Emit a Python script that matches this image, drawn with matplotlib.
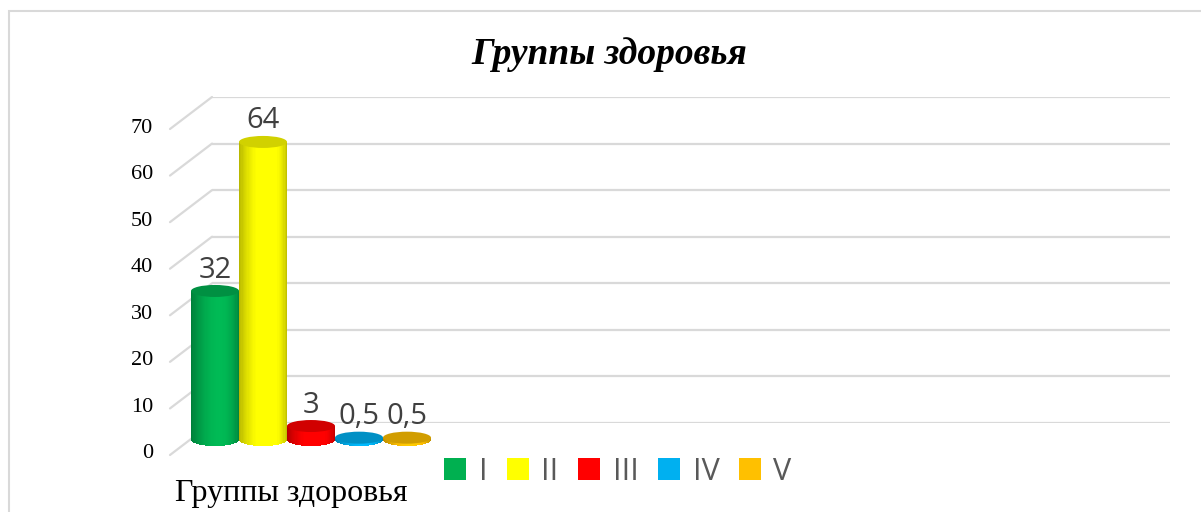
import matplotlib
matplotlib.use("Agg")
import matplotlib.pyplot as plt
import matplotlib.transforms as mtransforms
from matplotlib.patches import Ellipse, Patch, Rectangle
from matplotlib.colors import to_rgb
import numpy as np

# data
groups = ["I", "II", "III", "IV", "V"]
values = [32, 64, 3, 0.5, 0.5]
colors = ["#00b050", "#ffff00", "#ff0000", "#00b0f0", "#ffc000"]
yticks = [0, 10, 20, 30, 40, 50, 60, 70]
title = "Группы здоровья"
cat_label = "Группы здоровья"

W, H = 1201, 512
fig = plt.figure(figsize=(W / 100, H / 100), dpi=100)

# back wall of the pseudo-3D plot
ax = fig.add_axes([212 / W, 89 / H, 958 / W, 326 / H])
ax.set_xlim(0, 958 / 48)
ax.set_ylim(0, 70)
ax.axis("off")

grid_c = "#d9d9d9"
blend = mtransforms.blended_transform_factory(ax.transAxes, ax.transData)
mid = mtransforms.offset_copy(ax.transData, fig=fig, x=-21, y=-17, units="dots")
lab_tr = blend + mtransforms.ScaledTranslation(-59 / 100, -31 / 100, fig.dpi_scale_trans)

for v in yticks:
    ax.axhline(v, color=grid_c, lw=1.6, zorder=0)
    ax.annotate("", xy=(0, v), xycoords=blend, xytext=(-42, -32),
                textcoords="offset pixels", annotation_clip=False, zorder=0,
                arrowprops=dict(arrowstyle="-", color=grid_c, lw=1.6,
                                shrinkA=0, shrinkB=0))
    ax.text(0, v, str(v), transform=lab_tr, ha="right", va="center",
            fontsize=16, family="Liberation Serif", color="black")

# cylinders built from thin vertical strips
eh = 12 / (326 / 70)
n = 40
for i, (v, c) in enumerate(zip(values, colors)):
    xc = 0.5 + i
    rgb = np.array(to_rgb(c))
    t = (np.arange(n) + 0.5) / n
    u = 2 * t - 1
    shade = 0.70 + 0.36 * np.sin(np.pi * t ** 1.3) ** 0.6
    bottoms = -eh / 2 * np.sqrt(1 - u ** 2)
    strip_cols = [tuple(np.clip(rgb * s, 0, 1)) for s in shade]
    ax.bar(xc - 0.5 + t, v - bottoms, bottom=bottoms, width=1 / n,
           color=strip_cols, linewidth=0, transform=mid, clip_on=False,
           zorder=2)
    top = Ellipse((xc, v), 1.0, eh, transform=mid,
                  facecolor=tuple(rgb * 0.82), edgecolor="none",
                  clip_on=False, zorder=3)
    ax.add_patch(top)
    ax.text(xc, v + eh / 2 + 1.6, f"{v:g}".replace(".", ","), transform=mid,
            ha="center", va="baseline", fontsize=21, family="Open Sans",
            color="#404040", zorder=4)

handles = [Patch(facecolor=c, edgecolor="none") for c in colors]
fig.legend(handles, groups, loc="center", bbox_to_anchor=(618 / W, 40 / H),
           ncol=5, frameon=False, handlelength=0.72,
           handleheight=0.72, handletextpad=0.4, columnspacing=0.65,
           labelcolor="#595959", prop={"family": "Open Sans", "size": 22})

fig.text(609 / W, (H - 55) / H, title, ha="center", va="center",
         fontsize=27, weight="bold", style="italic", family="Liberation Serif")
fig.text(175 / W, (H - 494) / H, cat_label, ha="left", va="center",
         fontsize=23, family="Liberation Serif")

fig.add_artist(Rectangle((9 / W, -0.1), 1.2, 0.1 + (H - 11) / H,
                         transform=fig.transFigure, fill=False,
                         edgecolor=grid_c, lw=1.5))

fig.savefig("out.png", dpi=100)
